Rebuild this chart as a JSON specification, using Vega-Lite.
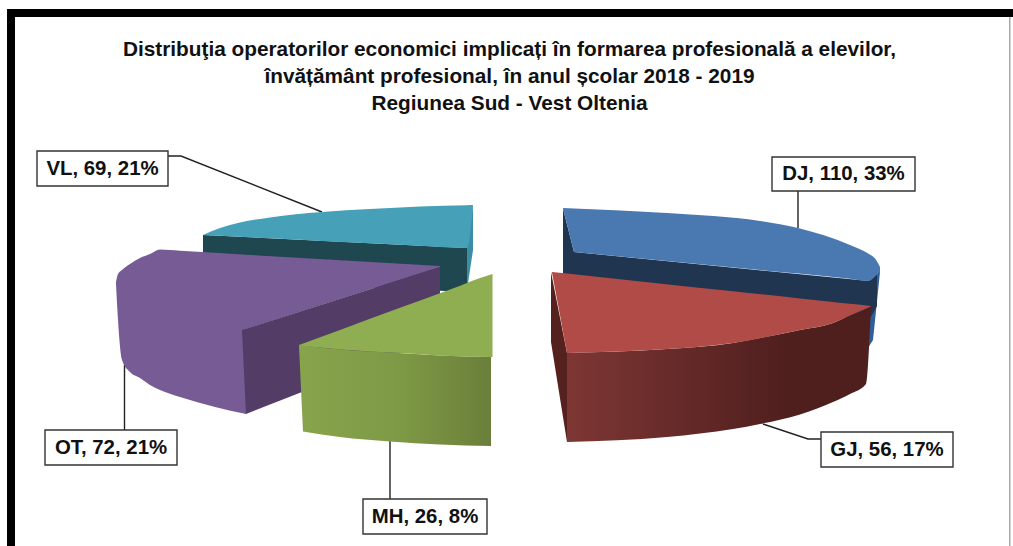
{
"$schema":"https://vega.github.io/schema/vega-lite/v6.json",
"width":1013,"height":546,"padding":0,"autosize":"none",
"background":"white",
"config":{"view":{"stroke":null},"text":{"font":"Liberation Sans"}},
"title":{"text":["Distribuţia operatorilor economici implicați în formarea profesională a elevilor,","învățământ profesional, în anul școlar 2018 - 2019","Regiunea Sud - Vest Oltenia"],"font":"Liberation Sans","fontSize":20.8,"fontWeight":"bold","color":"#111111","lineHeight":27,"anchor":"middle","baseline":"top","offset":0,"dy":115,"dx":3},
"datasets":{
"slices":[
{"code":"DJ","value":110,"pct":33,"x":772,"x2":915,"y":157,"y2":191},
{"code":"GJ","value":56,"pct":17,"x":821,"x2":953,"y":432,"y2":467},
{"code":"MH","value":26,"pct":8,"x":363,"x2":487,"y":499,"y2":534},
{"code":"OT","value":72,"pct":21,"x":45,"x2":177,"y":430,"y2":465},
{"code":"VL","value":69,"pct":21,"x":37,"x2":168,"y":151,"y2":186}],
"frame":[
{"part":"top","x":7,"x2":1013,"y":9,"y2":17},
{"part":"left","x":7,"x2":15,"y":9,"y2":546},
{"part":"right","x":1009,"x2":1010.5,"y":17,"y2":546}],
"sheetLines":[{"y":32},{"y":67},{"y":100},{"y":133},{"y":166},{"y":199},{"y":233},{"y":267},{"y":300},{"y":333},{"y":367},{"y":400},{"y":433},{"y":467},{"y":499},{"y":533}],
"leaders":[
{"code":"VL","o":1,"x":168,"y":156},{"code":"VL","o":2,"x":181,"y":156},{"code":"VL","o":3,"x":322,"y":212},
{"code":"DJ","o":1,"x":798,"y":191},{"code":"DJ","o":2,"x":798,"y":228},
{"code":"OT","o":1,"x":124.5,"y":365},{"code":"OT","o":2,"x":124.5,"y":430},
{"code":"MH","o":1,"x":390,"y":441},{"code":"MH","o":2,"x":390,"y":499},
{"code":"GJ","o":1,"x":763,"y":424},{"code":"GJ","o":2,"x":808,"y":439},{"code":"GJ","o":3,"x":821,"y":439}],
"faces":[
{"face":"DJstrip","x":868,"y":281.5,"y2":348},{"face":"DJstrip","x":873,"y":277,"y2":340},{"face":"DJstrip","x":880,"y":270,"y2":272},
{"face":"DJside","x":563,"y":208.5,"y2":280},{"face":"DJside","x":574,"y":252,"y2":300},{"face":"DJside","x":869,"y":281,"y2":320},{"face":"DJside","x":877,"y":273,"y2":306},
{"face":"DJwedge","x":563,"y":208,"y2":208.5},{"face":"DJwedge","x":574,"y":208.4,"y2":252},
{"face":"DJtop","x":574,"y":208.4,"y2":252},{"face":"DJtop","x":667,"y":213,"y2":261},{"face":"DJtop","x":760,"y":221,"y2":270},{"face":"DJtop","x":798,"y":228,"y2":273.6},{"face":"DJtop","x":850,"y":245,"y2":278.7},{"face":"DJtop","x":869,"y":254,"y2":281},{"face":"DJtop","x":875,"y":258.5,"y2":276.5},{"face":"DJtop","x":880,"y":267,"y2":272},
{"face":"VLstrip","x":467,"y":248,"y2":290},{"face":"VLstrip","x":473,"y":205,"y2":250},
{"face":"VLfront","x":203,"y":235,"y2":280},{"face":"VLfront","x":467,"y":248,"y2":292},
{"face":"VLtop","x":203,"y":235,"y2":235},{"face":"VLtop","x":220,"y":228,"y2":235.8},{"face":"VLtop","x":240,"y":222.5,"y2":236.8},{"face":"VLtop","x":270,"y":217.5,"y2":238.3},{"face":"VLtop","x":322,"y":212,"y2":240.9},{"face":"VLtop","x":370,"y":209,"y2":243.2},{"face":"VLtop","x":420,"y":206.5,"y2":245.7},{"face":"VLtop","x":467,"y":205.2,"y2":248},{"face":"VLtop","x":473,"y":205,"y2":205.5},
{"face":"OTbody","x":116,"y":282,"y2":284},{"face":"OTbody","x":118,"y":274,"y2":320},{"face":"OTbody","x":122,"y":270,"y2":360},{"face":"OTbody","x":130,"y":264,"y2":372},{"face":"OTbody","x":140,"y":258,"y2":378},{"face":"OTbody","x":150,"y":254,"y2":385},{"face":"OTbody","x":160,"y":249.5,"y2":390},{"face":"OTbody","x":180,"y":250.7,"y2":397},{"face":"OTbody","x":215,"y":252.8,"y2":407},{"face":"OTbody","x":246,"y":254.7,"y2":414},
{"face":"OTinner","x":246,"y":254.7,"y2":329},{"face":"OTinner","x":440,"y":266,"y2":267},
{"face":"OTfront","x":242,"y":330,"y2":331},{"face":"OTfront","x":246,"y":328.7,"y2":414},{"face":"OTfront","x":440,"y":267,"y2":338},
{"face":"MHedge","x":299,"y":345,"y2":346},{"face":"MHedge","x":303,"y":345.5,"y2":431.5},
{"face":"MHside","x":303,"y":345.5,"y2":431.5},{"face":"MHside","x":340,"y":349.5,"y2":437},{"face":"MHside","x":390,"y":352.5,"y2":441.5},{"face":"MHside","x":440,"y":355.5,"y2":444.5},{"face":"MHside","x":491,"y":357,"y2":446},
{"face":"MHtop","x":299,"y":345,"y2":345.5},{"face":"MHtop","x":340,"y":329.9,"y2":349.5},{"face":"MHtop","x":400,"y":307.8,"y2":353},{"face":"MHtop","x":450,"y":289.5,"y2":356},{"face":"MHtop","x":491,"y":274.4,"y2":357},{"face":"MHtop","x":492.5,"y":274,"y2":357},
{"face":"GJleft","x":551,"y":272,"y2":342},{"face":"GJleft","x":567,"y":353,"y2":442},
{"face":"GJside","x":567,"y":353,"y2":442},{"face":"GJside","x":667,"y":349,"y2":437},{"face":"GJside","x":733,"y":343,"y2":429},{"face":"GJside","x":760,"y":338,"y2":424},{"face":"GJside","x":800,"y":330,"y2":414.5},{"face":"GJside","x":833,"y":323,"y2":402},{"face":"GJside","x":850,"y":315.5,"y2":394},{"face":"GJside","x":866,"y":309,"y2":384},{"face":"GJside","x":871,"y":306,"y2":306.5},
{"face":"GJwedge","x":552,"y":272,"y2":272.5},{"face":"GJwedge","x":567,"y":273.6,"y2":353},
{"face":"GJtop","x":567,"y":273.6,"y2":353},{"face":"GJtop","x":650,"y":282.4,"y2":350},{"face":"GJtop","x":733,"y":291.3,"y2":343},{"face":"GJtop","x":800,"y":298.4,"y2":330},{"face":"GJtop","x":833,"y":302,"y2":323},{"face":"GJtop","x":850,"y":303.8,"y2":315.5},{"face":"GJtop","x":871,"y":306,"y2":306.5}
]},
"encoding":{
"x":{"field":"x","type":"quantitative","scale":{"domain":[0,1013],"nice":false,"zero":false},"axis":null},
"y":{"field":"y","type":"quantitative","scale":{"domain":[546,0],"nice":false,"zero":false},"axis":null}
},
"layer":[
{"data":{"name":"frame"},"mark":{"type":"rect","fill":"#000000"},"transform":[{"filter":"datum.part!=='right'"}],"encoding":{"x2":{"field":"x2"},"y2":{"field":"y2"}}},
{"data":{"name":"frame"},"mark":{"type":"rect","fill":"#a9a9a9"},"transform":[{"filter":"datum.part==='right'"}],"encoding":{"x2":{"field":"x2"},"y2":{"field":"y2"}}},
{"data":{"name":"sheetLines"},"mark":{"type":"rule","stroke":"#d4d4d4","strokeWidth":1},"encoding":{"x":{"datum":1010.5,"type":"quantitative"},"x2":{"datum":1013}}},
{"data":{"name":"leaders"},"mark":{"type":"line","stroke":"#222222","strokeWidth":1.4},"encoding":{"detail":{"field":"code"},"order":{"field":"o","type":"ordinal"}}},
{"data":{"name":"faces"},"transform":[{"filter":"datum.face==='DJstrip'"}],"mark":{"type":"area","fill":"#2f5f94"},"encoding":{"y2":{"field":"y2"}}},
{"data":{"name":"faces"},"transform":[{"filter":"datum.face==='DJside'"}],"mark":{"type":"area","fill":"#1f3550"},"encoding":{"y2":{"field":"y2"}}},
{"data":{"name":"faces"},"transform":[{"filter":"datum.face==='DJwedge'"}],"mark":{"type":"area","fill":"#4a78b0"},"encoding":{"y2":{"field":"y2"}}},
{"data":{"name":"faces"},"transform":[{"filter":"datum.face==='DJtop'"}],"mark":{"type":"area","fill":"#4a78b0","interpolate":"monotone"},"encoding":{"y2":{"field":"y2"}}},
{"data":{"name":"faces"},"transform":[{"filter":"datum.face==='VLstrip'"}],"mark":{"type":"area","fill":"#3a8da5"},"encoding":{"y2":{"field":"y2"}}},
{"data":{"name":"faces"},"transform":[{"filter":"datum.face==='VLfront'"}],"mark":{"type":"area","fill":"#1f4750"},"encoding":{"y2":{"field":"y2"}}},
{"data":{"name":"faces"},"transform":[{"filter":"datum.face==='VLtop'"}],"mark":{"type":"area","fill":"#45a0b8","interpolate":"monotone"},"encoding":{"y2":{"field":"y2"}}},
{"data":{"name":"faces"},"transform":[{"filter":"datum.face==='OTbody'"}],"mark":{"type":"area","fill":"#775b95","interpolate":"monotone"},"encoding":{"y2":{"field":"y2"}}},
{"data":{"name":"faces"},"transform":[{"filter":"datum.face==='OTinner'"}],"mark":{"type":"area","fill":"#775b95"},"encoding":{"y2":{"field":"y2"}}},
{"data":{"name":"faces"},"transform":[{"filter":"datum.face==='OTfront'"}],"mark":{"type":"area","fill":"#533c66"},"encoding":{"y2":{"field":"y2"}}},
{"data":{"name":"faces"},"transform":[{"filter":"datum.face==='MHedge'"}],"mark":{"type":"area","fill":"#87a34b"},"encoding":{"y2":{"field":"y2"}}},
{"data":{"name":"faces"},"transform":[{"filter":"datum.face==='MHside'"}],"mark":{"type":"area","interpolate":"monotone","fill":{"gradient":"linear","x1":0,"x2":1,"y1":0,"y2":0,"stops":[{"offset":0,"color":"#87a34b"},{"offset":0.5,"color":"#7f9a46"},{"offset":1,"color":"#6a7f3a"}]}},"encoding":{"y2":{"field":"y2"}}},
{"data":{"name":"faces"},"transform":[{"filter":"datum.face==='MHtop'"}],"mark":{"type":"area","fill":"#8fae52","interpolate":"monotone"},"encoding":{"y2":{"field":"y2"}}},
{"data":{"name":"faces"},"transform":[{"filter":"datum.face==='GJleft'"}],"mark":{"type":"area","fill":"#55211f"},"encoding":{"y2":{"field":"y2"}}},
{"data":{"name":"faces"},"transform":[{"filter":"datum.face==='GJside'"}],"mark":{"type":"area","interpolate":"monotone","fill":{"gradient":"linear","x1":0,"x2":1,"y1":0,"y2":0,"stops":[{"offset":0,"color":"#7d3634"},{"offset":0.72,"color":"#4f1f1e"},{"offset":1,"color":"#4f1f1e"}]}},"encoding":{"y2":{"field":"y2"}}},
{"data":{"name":"faces"},"transform":[{"filter":"datum.face==='GJwedge'"}],"mark":{"type":"area","fill":"#b04b47"},"encoding":{"y2":{"field":"y2"}}},
{"data":{"name":"faces"},"transform":[{"filter":"datum.face==='GJtop'"}],"mark":{"type":"area","fill":"#b04b47","interpolate":"monotone"},"encoding":{"y2":{"field":"y2"}}},
{"data":{"name":"slices"},"mark":{"type":"rect","fill":"white","stroke":"#333333","strokeWidth":1.4},"encoding":{"x2":{"field":"x2"},"y2":{"field":"y2"}}},
{"data":{"name":"slices"},"transform":[{"calculate":"(datum.x+datum.x2)/2","as":"cx"},{"calculate":"(datum.y+datum.y2)/2","as":"cy"},{"calculate":"datum.code+', '+datum.value+', '+datum.pct+'%'","as":"label"}],"mark":{"type":"text","font":"Liberation Sans","fontWeight":"bold","fontSize":20.4,"color":"#111111","align":"center","baseline":"middle"},"encoding":{"x":{"field":"cx","type":"quantitative"},"y":{"field":"cy","type":"quantitative"},"text":{"field":"label"}}}
]
}
